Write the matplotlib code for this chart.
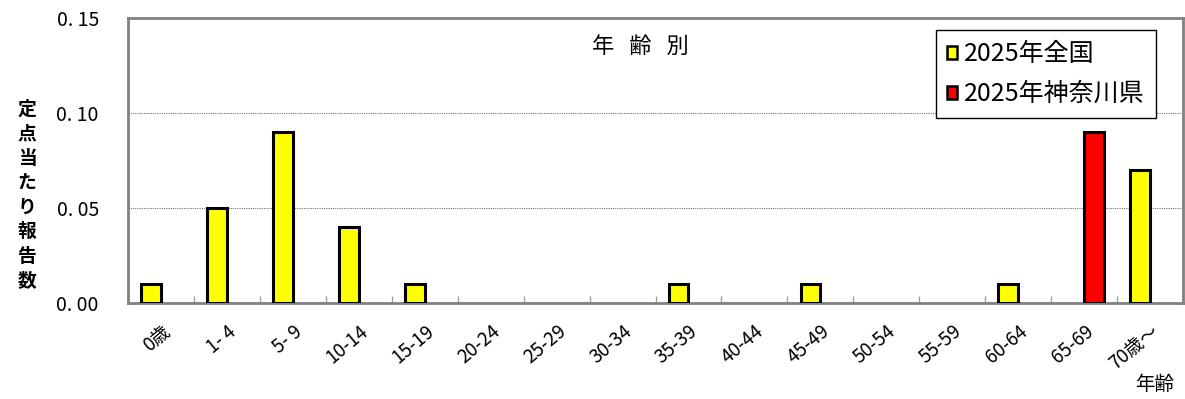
import numpy as np
import matplotlib
matplotlib.use("Agg")
import matplotlib.pyplot as plt
from matplotlib.patches import Patch

plt.rcParams['font.family'] = ['Noto Sans CJK JP', 'DejaVu Sans']

categories = ["0歳", "1- 4", "5- 9", "10-14", "15-19", "20-24", "25-29", "30-34",
              "35-39", "40-44", "45-49", "50-54", "55-59", "60-64", "65-69", "70歳～"]
national = [0.01, 0.05, 0.09, 0.04, 0.01, 0, 0, 0, 0.01, 0, 0.01, 0, 0, 0.01, 0, 0.07]
kanagawa = [0, 0, 0, 0, 0, 0, 0, 0, 0, 0, 0, 0, 0, 0, 0.09, 0]
series_names = ["2025年全国", "2025年神奈川県"]
series_colors = ["#FFFF00", "#FF0000"]
yticks = [0.00, 0.05, 0.10, 0.15]

fig = plt.figure(figsize=(11.85, 3.99), dpi=100)
ax = fig.add_axes([128/1185, 1-303/399, 1055/1185, 285/399])

x = np.arange(len(categories))
w = 0.3
for vals, off, col in zip([national, kanagawa], [-w/2, w/2], series_colors):
    v = np.array(vals, dtype=float)
    m = v > 0
    ax.bar(x[m] + off, v[m], width=w, color=col, edgecolor='black', linewidth=2.2, zorder=3)

ax.set_xlim(-0.5, len(categories) - 0.5)
ax.set_ylim(0, 0.15)
ax.set_yticks(yticks)
ax.set_yticklabels([f"{t:.2f}".replace(".", ". ") for t in yticks], fontsize=14)
ax.tick_params(axis='y', length=0, pad=21)
ax.set_xticks(x)
ax.set_xticklabels(categories, fontsize=13.5, rotation=40, ha='right', va='top',
                   rotation_mode='anchor')
ax.tick_params(axis='x', length=0, pad=13)
ax.set_xticks(np.arange(0.5, len(categories) - 0.5, 1), minor=True)
ax.tick_params(axis='x', which='minor', direction='in', length=5, color='#A0A0A0', width=1)

for yv in yticks[1:3]:
    ax.axhline(yv, color='#707070', linewidth=0.8, linestyle=(0, (1, 1)), zorder=1)

for s in ax.spines.values():
    s.set_color('#808080')
    s.set_linewidth(2)

ax.text((640 - 128) / 1055, 0.9, "年   齢   別", transform=ax.transAxes,
        ha='center', va='center', fontsize=16)

handles = [Patch(facecolor=c, edgecolor='black', linewidth=1.8) for c in series_colors]
leg = ax.legend(handles, series_names, loc='upper right', bbox_to_anchor=(0.974, 0.958),
                borderaxespad=0, fontsize=18, handlelength=0.42, handleheight=0.42,
                handletextpad=0.25, labelspacing=0.55, borderpad=0.45, fancybox=False,
                framealpha=1, edgecolor='black')
leg.get_frame().set_linewidth(1.0)

fig.text(27/1185, 1-195/399, "\n".join("定点当たり報告数"), ha='center', va='center',
         fontsize=13.5, linespacing=1.36, fontweight='bold')
fig.text(1155/1185, 1-385/399, "年齢", ha='center', va='center', fontsize=14)

fig.savefig("out.png", dpi=100)
